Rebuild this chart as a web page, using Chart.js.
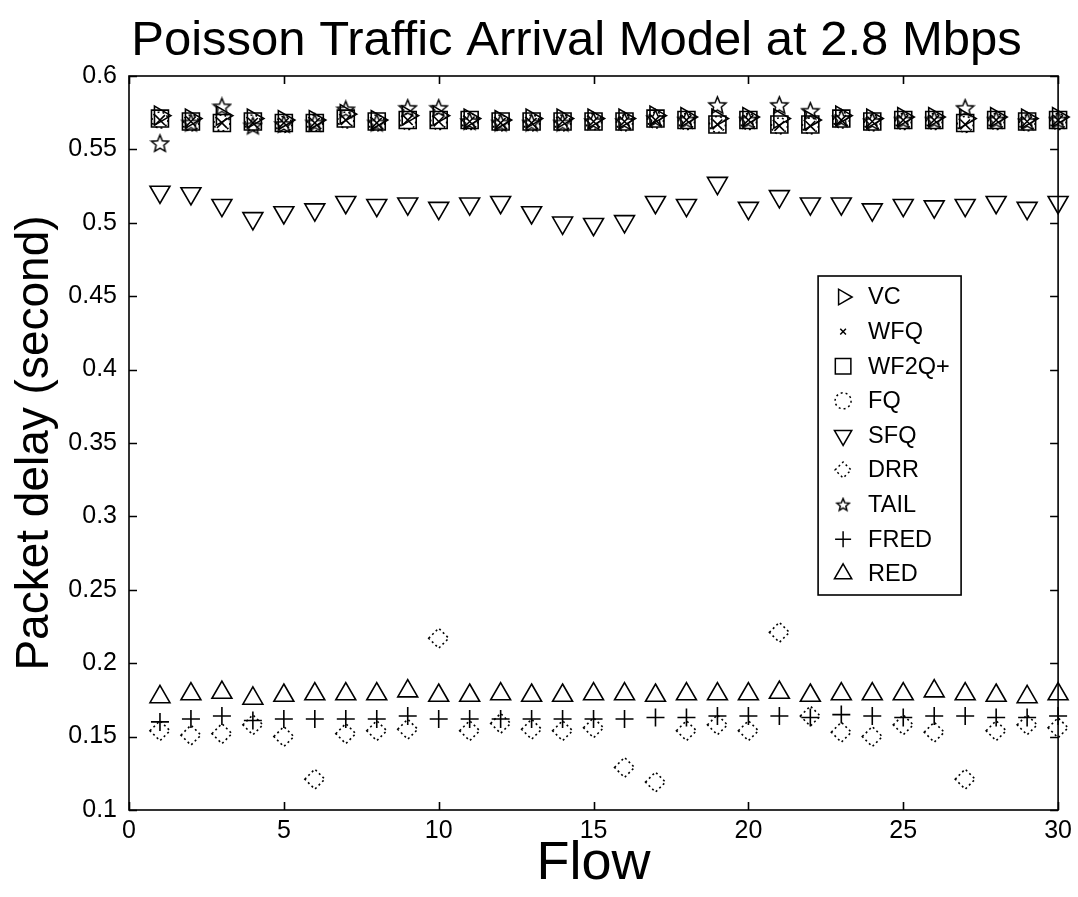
<!DOCTYPE html>
<html><head><meta charset="utf-8">
<script src="https://cdn.jsdelivr.net/npm/chart.js@4/dist/chart.umd.min.js"></script>
<style>html,body{margin:0;padding:0;background:#fff}#wrap{width:1078px;height:897px;position:relative}</style>
</head><body><div id="wrap"><canvas id="c"></canvas></div>
<script>
const flows = [1,2,3,4,5,6,7,8,9,10,11,12,13,14,15,16,17,18,19,20,21,22,23,24,25,26,27,28,29,30];
const VC    = [0.573,0.571,0.573,0.571,0.570,0.570,0.574,0.570,0.573,0.573,0.571,0.570,0.571,0.571,0.571,0.571,0.573,0.572,0.571,0.572,0.571,0.570,0.573,0.571,0.572,0.572,0.571,0.572,0.571,0.572];
const WFQ   = [0.570,0.569,0.568,0.568,0.568,0.568,0.570,0.568,0.570,0.569,0.569,0.568,0.568,0.569,0.569,0.569,0.570,0.570,0.567,0.570,0.566,0.566,0.570,0.569,0.570,0.570,0.567,0.570,0.569,0.570];
const WF2Q  = [0.571,0.569,0.568,0.569,0.568,0.568,0.571,0.569,0.570,0.570,0.570,0.569,0.569,0.569,0.569,0.569,0.571,0.570,0.567,0.570,0.567,0.567,0.571,0.569,0.570,0.570,0.568,0.570,0.569,0.570];
const FQ    = [0.570,0.568,0.568,0.568,0.567,0.568,0.570,0.568,0.569,0.569,0.569,0.568,0.568,0.568,0.569,0.568,0.570,0.569,0.567,0.569,0.566,0.566,0.570,0.568,0.569,0.569,0.567,0.569,0.568,0.569];
const SFQ   = [0.521,0.520,0.512,0.503,0.507,0.509,0.514,0.512,0.513,0.510,0.513,0.514,0.507,0.500,0.499,0.501,0.514,0.512,0.527,0.510,0.518,0.513,0.513,0.509,0.512,0.511,0.512,0.514,0.510,0.514];
const DRR   = [0.154,0.151,0.152,0.158,0.150,0.121,0.152,0.154,0.155,0.217,0.154,0.159,0.155,0.154,0.156,0.129,0.119,0.154,0.158,0.154,0.221,0.164,0.153,0.150,0.158,0.153,0.121,0.154,0.158,0.156];
const TAIL  = [0.554,0.568,0.579,0.566,0.567,0.568,0.577,0.568,0.578,0.578,0.569,0.568,0.568,0.568,0.569,0.569,0.571,0.570,0.580,0.570,0.580,0.576,0.571,0.569,0.570,0.570,0.578,0.570,0.569,0.570];
const FRED  = [0.160,0.162,0.164,0.161,0.162,0.162,0.162,0.162,0.164,0.162,0.162,0.162,0.162,0.162,0.162,0.162,0.163,0.163,0.164,0.164,0.164,0.163,0.165,0.164,0.163,0.164,0.164,0.163,0.163,0.164];
const RED   = [0.177,0.179,0.180,0.176,0.178,0.179,0.179,0.179,0.181,0.178,0.178,0.179,0.178,0.178,0.179,0.179,0.178,0.179,0.179,0.179,0.180,0.178,0.179,0.179,0.179,0.181,0.179,0.178,0.177,0.179];
const yTicks = [0.1,0.15,0.2,0.25,0.3,0.35,0.4,0.45,0.5,0.55,0.6];
const xTicks = [0,5,10,15,20,25,30];
const labels = ['VC','WFQ','WF2Q+','FQ','SFQ','DRR','TAIL','FRED','RED'];
const FONT = '"Liberation Sans", Arial, sans-serif';

function makeStar(size){
  const c=document.createElement('canvas'); c.width=size; c.height=size;
  const g=c.getContext('2d'); const cx=size/2, cy=size/2+0.5, R=size/2-1.5, r=R*0.45;
  g.beginPath();
  for(let i=0;i<10;i++){const rad=(i%2?r:R); const a=-Math.PI/2+i*Math.PI/5; const px=cx+rad*Math.cos(a), py=cy+rad*Math.sin(a); if(i===0) g.moveTo(px,py); else g.lineTo(px,py);}
  g.closePath(); g.strokeStyle='#000'; g.lineWidth=1.5; g.stroke(); return c;
}
const starBig = makeStar(21), starSmall = makeStar(16);

function pts(arr){ return arr.map((v,i)=>({x:flows[i], y:v})); }
function ds(label, arr, style, radius, rotation, dotted){
  return {label, data:pts(arr), pointStyle:style, pointRadius:radius, pointHoverRadius:radius,
    pointRotation:rotation||0, pointBorderColor:'#000', pointBackgroundColor:'rgba(0,0,0,0)',
    pointBorderWidth:1.6, borderColor:'#000', showLine:false, clip:false,
    borderDash: dotted ? [2,3] : []};
}
const datasets = [
  ds(labels[0], VC, 'triangle', 11, 90),
  ds(labels[1], WFQ, 'crossRot', 7, 0),
  ds(labels[2], WF2Q, 'rect', 12, 0),
  ds(labels[3], FQ, 'circle', 8, 0, true),
  ds(labels[4], SFQ, 'triangle', 11.5, 180),
  ds(labels[5], DRR, 'rectRot', 10, 0, true),
  ds(labels[6], TAIL, starBig, 10, 0),
  ds(labels[7], FRED, 'cross', 9, 0),
  ds(labels[8], RED, 'triangle', 11.5, 0)
];
const legendMarks = [
  {pointStyle:'triangle', radius:9, rotation:90},
  {pointStyle:'crossRot', radius:4, rotation:0},
  {pointStyle:'rect', radius:11, rotation:0},
  {pointStyle:'circle', radius:8, rotation:0, dash:true},
  {pointStyle:'triangle', radius:10, rotation:180},
  {pointStyle:'rectRot', radius:8, rotation:0, dash:true},
  {pointStyle:starSmall, radius:7, rotation:0},
  {pointStyle:'cross', radius:8, rotation:0},
  {pointStyle:'triangle', radius:10, rotation:0}
];

const dashPlugin = {
  id:'dash',
  beforeDatasetDraw(chart,args){ const d=chart.data.datasets[args.index]; chart.ctx.save(); chart.ctx.setLineDash(d.borderDash||[]); },
  afterDatasetDraw(chart){ chart.ctx.restore(); }
};
const titleShift = {
  id:'titleShift',
  afterLayout(chart){ if (chart.titleBlock) { chart.titleBlock.left = 90; } }
};
const framePlugin = {
  id:'frame',
  afterDatasetsDraw(chart){
    const ctx=chart.ctx, a=chart.chartArea, xs=chart.scales.x, ys=chart.scales.y;
    ctx.save(); ctx.strokeStyle='#000'; ctx.lineWidth=1.6; ctx.setLineDash([]);
    ctx.strokeRect(a.left, a.top, a.right-a.left, a.bottom-a.top);
    ctx.beginPath();
    yTicks.forEach(v=>{const p=Math.round(ys.getPixelForValue(v))+0.5; ctx.moveTo(a.left,p); ctx.lineTo(a.left+8,p); ctx.moveTo(a.right,p); ctx.lineTo(a.right-8,p);});
    xTicks.forEach(v=>{const p=Math.round(xs.getPixelForValue(v))+0.5; ctx.moveTo(p,a.bottom); ctx.lineTo(p,a.bottom-8); ctx.moveTo(p,a.top); ctx.lineTo(p,a.top+8);});
    ctx.stroke(); ctx.restore();
  }
};
const boxLegend = {
  id:'boxLegend',
  afterDraw(chart){
    const ctx=chart.ctx, a=chart.chartArea;
    const L=a.right-240, T=a.top+200, W=143, H=319, rowH=34.6;
    ctx.save();
    ctx.fillStyle='#fff'; ctx.fillRect(L,T,W,H);
    ctx.strokeStyle='#000'; ctx.lineWidth=1.6; ctx.strokeRect(L,T,W,H);
    ctx.font='23.5px '+FONT; ctx.textBaseline='middle'; ctx.fillStyle='#000';
    chart.data.datasets.forEach((d,i)=>{
      const cy=T+21+i*rowH, m=legendMarks[i];
      ctx.save(); ctx.setLineDash(m.dash?[2,3]:[]); ctx.strokeStyle='#000'; ctx.fillStyle='rgba(0,0,0,0)'; ctx.lineWidth=1.5;
      Chart.helpers.drawPoint(ctx, {pointStyle:m.pointStyle, radius:m.radius, rotation:m.rotation, borderWidth:1.5}, L+25, cy);
      ctx.restore();
      ctx.fillStyle='#000'; ctx.fillText(d.label, L+50, cy+1);
    });
    ctx.restore();
  }
};

new Chart(document.getElementById('c'), {
  type:'scatter',
  data:{datasets},
  plugins:[dashPlugin, titleShift, framePlugin, boxLegend],
  options:{
    responsive:true, maintainAspectRatio:false, animation:false,
    layout:{padding:{left:0,right:15,top:0,bottom:0}},
    plugins:{
      legend:{display:false}, tooltip:{enabled:false},
      title:{display:true, text:'Poisson Traffic Arrival Model at 2.8 Mbps', color:'#000',
        font:{size:49, family:FONT, weight:'normal', lineHeight:1.2}, padding:{top:12,bottom:5.2}}
    },
    scales:{
      x:{type:'linear', min:0, max:30,
        afterFit(s){ s.height=87; },
        afterBuildTicks(s){ s.ticks = xTicks.map(v=>({value:v})); },
        ticks:{color:'#000', font:{size:25, family:FONT}, padding:6, maxRotation:0},
        grid:{display:false, drawTicks:false}, border:{display:false},
        title:{display:true, text:'Flow', color:'#000', font:{size:54, family:FONT, lineHeight:1.2}, padding:{top:0,bottom:0}}
      },
      y:{type:'linear', min:0.1, max:0.6,
        afterFit(s){ s.width=129; },
        afterBuildTicks(s){ s.ticks = yTicks.map(v=>({value:v})); },
        ticks:{color:'#000', font:{size:25, family:FONT}, padding:12,
          callback:(v)=>String(parseFloat(Number(v).toFixed(2)))},
        grid:{display:false, drawTicks:false}, border:{display:false},
        title:{display:true, text:'Packet delay (second)', color:'#000', font:{size:46, family:FONT, lineHeight:1.2}, padding:{top:8,bottom:0}}
      }
    }
  }
});
</script></body></html>
